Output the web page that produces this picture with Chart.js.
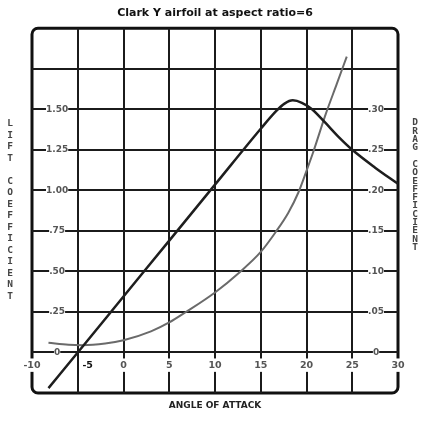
<!DOCTYPE html>
<html>
<head>
<meta charset="utf-8">
<script src="https://cdn.jsdelivr.net/npm/chart.js@4.4.1/dist/chart.umd.min.js"></script>
<style>
  html, body { margin: 0; padding: 0; background: #fff; }
  #chart { display: block; }
</style>
</head>
<body>
<canvas id="chart" width="422" height="422"></canvas>
<script>
const titleText = 'Clark Y airfoil at aspect ratio=6';
const xTitle = 'ANGLE OF ATTACK';
const leftTitle = 'LIFT COEFFICIENT';
const rightTitle = 'DRAG COEFFICIENT';

// lift coefficient vs angle of attack (left axis)
const liftAngles = [-8.2, -5, 0, 5, 10, 15, 16.7, 17.6, 18.5, 19.5, 20.6, 22, 23.5, 25, 27.5, 30];
const liftValues = [-0.22, 0, 0.345, 0.69, 1.035, 1.38, 1.49, 1.535, 1.555, 1.54, 1.5, 1.42, 1.33, 1.25, 1.14, 1.04];

// drag coefficient vs angle of attack (right axis)
const dragAngles = [-8.2, -6, -4.5, -2, 0, 3, 5, 6.7, 10, 12.7, 15, 16.6, 18, 19.1, 20, 20.7, 22.1, 23.3, 24.4];
const dragValues = [0.012, 0.0095, 0.009, 0.011, 0.015, 0.026, 0.037, 0.049, 0.074, 0.099, 0.124, 0.148, 0.172, 0.197, 0.224, 0.246, 0.294, 0.331, 0.365];

const liftTickLabels = ['0', '.25', '.50', '.75', '1.00', '1.25', '1.50'];
const dragTickLabels = ['0', '.05', '.10', '.15', '.20', '.25', '.30'];

const gridColor = '#1b1b1b';
const labelFont = 'bold 9px "DejaVu Sans"';
const measureCtx = document.createElement('canvas').getContext('2d');

// pad each label so the white gap behind it has the same width
function gapPadding(gap) {
  return (ctx) => {
    measureCtx.font = labelFont;
    const w = measureCtx.measureText(ctx.tick.label || '').width;
    return { left: (gap - w) / 2, right: (gap - w) / 2, top: 1, bottom: 1 };
  };
}

function edgeColor(min, max) {
  return (ctx) => {
    const v = ctx.tick && ctx.tick.value;
    return (Math.abs(v - min) < 1e-9 || Math.abs(v - max) < 1e-9) ? 'rgba(0,0,0,0)' : gridColor;
  };
}

// keep the axes from pushing the plot area inwards
function noPadding(scale) {
  scale.paddingLeft = 0;
  scale.paddingRight = 0;
  scale.paddingTop = 0;
  scale.paddingBottom = 0;
  if (scale.axis === 'y') scale.width = 0;
}

const frame = {
  id: 'frame',
  beforeDraw(chart) {
    const { left, top, right, bottom } = chart.chartArea;
    const c = chart.ctx;
    c.save();
    c.lineWidth = 3;
    c.strokeStyle = '#111';
    c.beginPath();
    c.roundRect(left, top, right - left, bottom - top, 6);
    c.stroke();
    c.restore();
  }
};

const sideTitles = {
  id: 'sideTitles',
  afterDraw(chart) {
    const c = chart.ctx;
    c.save();
    c.font = 'bold 9.5px "DejaVu Sans Mono"';
    c.fillStyle = '#444';
    c.textAlign = 'center';
    c.textBaseline = 'middle';
    [...leftTitle].forEach((ch, i) => c.fillText(ch, 10, 124 + i * 11.5));
    [...rightTitle].forEach((ch, i) => c.fillText(ch, 415, 123 + i * 8.3));
    c.restore();
  }
};

new Chart(document.getElementById('chart'), {
  type: 'line',
  data: {
    datasets: [
      {
        label: 'Lift coefficient',
        data: liftAngles.map((a, i) => ({ x: a, y: liftValues[i] })),
        yAxisID: 'y',
        borderColor: '#1e1e1e',
        borderWidth: 2.5,
        pointRadius: 0,
        cubicInterpolationMode: 'monotone'
      },
      {
        label: 'Drag coefficient',
        data: dragAngles.map((a, i) => ({ x: a, y: dragValues[i] })),
        yAxisID: 'y2',
        borderColor: '#6a6a6a',
        borderWidth: 2,
        pointRadius: 0,
        cubicInterpolationMode: 'monotone'
      }
    ]
  },
  options: {
    responsive: false,
    animation: false,
    layout: { padding: { left: 32, right: 24, top: 0, bottom: 0 } },
    font: { family: '"DejaVu Sans"' },
    plugins: {
      legend: { display: false },
      tooltip: { enabled: false },
      title: {
        display: true,
        text: titleText,
        color: '#111',
        font: { family: '"DejaVu Sans"', size: 11, weight: 'bold' },
        padding: { top: 7, bottom: 8 }
      },
      subtitle: {
        display: true,
        position: 'bottom',
        text: xTitle,
        color: '#222',
        font: { family: '"DejaVu Sans"', size: 9, weight: 'bold' },
        padding: { top: 7, bottom: 11.2 }
      }
    },
    scales: {
      x: {
        type: 'linear',
        position: { y: 0 },
        min: -10,
        max: 30,
        afterFit: noPadding,
        border: { display: false },
        grid: { color: edgeColor(-10, 30), lineWidth: 2, drawTicks: false },
        ticks: {
          stepSize: 5,
          padding: 7,
          font: { family: '"DejaVu Sans"', size: 9.5, weight: 'bold' },
          color: (ctx) => ctx.tick.value === -5 ? '#111' : '#555',
          callback: (v) => v === -5 ? '      -5' : String(v),
          showLabelBackdrop: (ctx) => ctx.tick.value !== -5,
          backdropColor: '#fff',
          backdropPadding: { x: 2, y: 1 }
        }
      },
      y: {
        position: 'left',
        min: -0.25,
        max: 2.0,
        afterFit: noPadding,
        border: { display: false },
        grid: { color: edgeColor(-0.25, 2.0), lineWidth: 2, drawTicks: false },
        ticks: {
          stepSize: 0.25,
          mirror: true,
          crossAlign: 'center',
          padding: 14,
          font: { family: '"DejaVu Sans"', size: 9, weight: 'bold' },
          color: '#555',
          callback: (v) => {
            const k = Math.round(v / 0.25);
            return k >= 0 && liftTickLabels[k] !== undefined ? liftTickLabels[k] : '';
          },
          showLabelBackdrop: (ctx) => !!ctx.tick.label,
          backdropColor: '#fff',
          backdropPadding: gapPadding(29)
        }
      },
      y2: {
        position: 'right',
        min: -0.05,
        max: 0.40,
        afterFit: noPadding,
        border: { display: false },
        grid: { drawOnChartArea: false, drawTicks: false },
        ticks: {
          stepSize: 0.05,
          mirror: true,
          crossAlign: 'center',
          padding: -14,
          font: { family: '"DejaVu Sans"', size: 9, weight: 'bold' },
          color: '#555',
          callback: (v) => {
            const k = Math.round(v / 0.05);
            return k >= 0 && dragTickLabels[k] !== undefined ? dragTickLabels[k] : '';
          },
          showLabelBackdrop: (ctx) => !!ctx.tick.label,
          backdropColor: '#fff',
          backdropPadding: gapPadding(28)
        }
      }
    }
  },
  plugins: [frame, sideTitles]
});
</script>
</body>
</html>
